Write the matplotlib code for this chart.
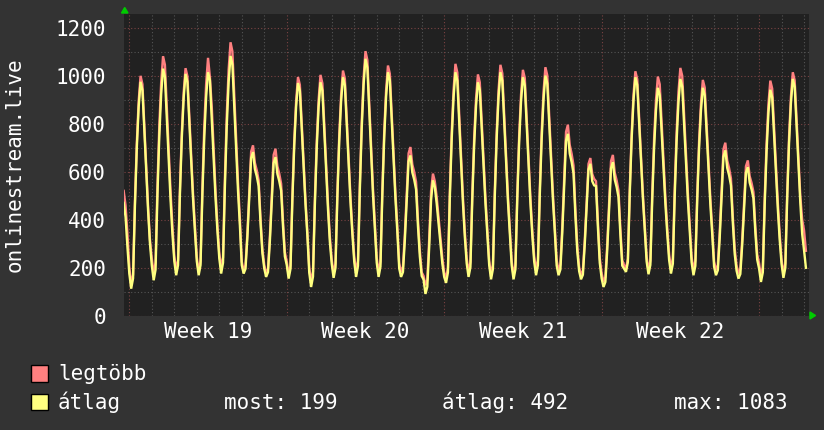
import matplotlib
matplotlib.use('Agg')
import matplotlib.pyplot as plt
from matplotlib.patches import Rectangle, Polygon

# 2-hour samples, day 0 = Monday of week 19
SLOT_HOURS = [0, 2, 4, 6, 8, 10, 12, 14, 16, 18, 20, 22]

# Sunday evening before week 19 (18h, 20h, 22h)
head_hours = [18, 20, 22]
head_max = [520, 459, 342]
head_avg = [470, 411, 286]

# legtöbb (max), one row per day
legtobb = [
    [203, 126, 170, 476, 720, 895, 1000, 965, 799, 624, 458, 318],
    [238, 175, 220, 538, 792, 973, 1082, 1046, 873, 692, 520, 375],
    [248, 189, 231, 526, 762, 931, 1032, 998, 838, 670, 509, 374],
    [245, 182, 227, 539, 789, 968, 1075, 995, 870, 691, 521, 378],
    [262, 196, 243, 574, 838, 1027, 1140, 1102, 923, 734, 555, 404],
    [225, 189, 210, 345, 512, 684, 710, 637, 606, 564, 408, 278],
    [211, 175, 196, 331, 498, 670, 696, 623, 592, 550, 394, 264],
    [226, 168, 209, 499, 730, 896, 995, 962, 805, 639, 482, 350],
    [200, 140, 183, 486, 728, 900, 1004, 969, 805, 632, 468, 330],
    [234, 175, 217, 514, 751, 920, 1022, 988, 827, 658, 497, 361],
    [246, 182, 228, 550, 808, 992, 1103, 1066, 891, 707, 532, 385],
    [242, 182, 225, 526, 767, 940, 1043, 1009, 845, 673, 509, 371],
    [218, 182, 203, 338, 505, 677, 703, 630, 599, 557, 401, 271],
    [180, 165, 126, 150, 320, 520, 592, 560, 495, 410, 325, 240],
    [180, 154, 199, 512, 763, 942, 1050, 1014, 844, 665, 494, 351],
    [240, 182, 223, 512, 742, 907, 1006, 973, 816, 652, 495, 363],
    [229, 168, 212, 519, 765, 941, 1046, 1011, 844, 668, 502, 361],
    [228, 168, 211, 511, 751, 922, 1025, 991, 828, 656, 494, 357],
    [248, 189, 231, 528, 765, 934, 1036, 1002, 841, 672, 511, 375],
    [231, 189, 213, 371, 565, 766, 796, 711, 675, 626, 444, 292],
    [202, 168, 188, 315, 471, 633, 657, 590, 570, 560, 395, 240],
    [177, 140, 161, 299, 469, 644, 670, 596, 564, 522, 363, 230],
    [210, 196, 237, 525, 756, 920, 1019, 986, 830, 665, 509, 377],
    [246, 189, 229, 512, 738, 900, 997, 965, 811, 650, 496, 367],
    [255, 196, 238, 531, 765, 933, 1033, 1000, 840, 673, 514, 380],
    [245, 189, 229, 507, 729, 888, 983, 951, 800, 642, 491, 364],
    [226, 189, 210, 349, 519, 694, 721, 647, 615, 572, 412, 279],
    [208, 175, 194, 317, 468, 623, 647, 581, 553, 515, 373, 255],
    [218, 161, 202, 489, 718, 882, 980, 947, 792, 628, 472, 341],
    [234, 175, 217, 511, 746, 914, 1015, 981, 822, 654, 500, 400],
]

# átlag (average), one row per day
atlag = [
    [175, 112, 155, 457, 699, 871, 975, 940, 777, 604, 440, 302],
    [209, 147, 191, 500, 747, 924, 1030, 995, 827, 650, 483, 341],
    [227, 168, 210, 504, 739, 907, 1008, 974, 815, 647, 487, 353],
    [227, 168, 210, 507, 744, 913, 1015, 981, 820, 651, 490, 354],
    [239, 175, 220, 538, 792, 974, 1083, 1047, 874, 693, 520, 375],
    [210, 175, 195, 327, 489, 657, 682, 611, 581, 540, 388, 261],
    [196, 161, 181, 311, 471, 636, 661, 591, 561, 521, 371, 246],
    [211, 154, 195, 480, 709, 872, 970, 937, 782, 619, 464, 334],
    [179, 119, 162, 461, 700, 871, 973, 939, 777, 606, 444, 307],
    [216, 157, 199, 492, 726, 894, 994, 961, 801, 634, 475, 341],
    [225, 161, 207, 525, 780, 962, 1071, 1035, 862, 680, 507, 361],
    [221, 161, 204, 503, 742, 913, 1015, 981, 819, 648, 486, 349],
    [196, 161, 181, 313, 475, 643, 668, 597, 567, 526, 374, 247],
    [165, 150, 90, 120, 286, 481, 564, 536, 467, 383, 300, 217],
    [161, 136, 180, 488, 734, 910, 1015, 980, 813, 637, 470, 329],
    [218, 161, 202, 486, 713, 876, 973, 941, 786, 624, 470, 340],
    [211, 151, 194, 497, 739, 911, 1015, 980, 816, 643, 479, 341],
    [210, 151, 193, 488, 724, 893, 994, 960, 800, 632, 471, 336],
    [226, 168, 210, 501, 734, 901, 1001, 968, 809, 643, 485, 351],
    [209, 168, 192, 345, 534, 729, 758, 675, 640, 593, 416, 268],
    [185, 151, 170, 296, 450, 609, 633, 560, 543, 540, 370, 220],
    [155, 119, 140, 275, 442, 614, 640, 567, 536, 494, 338, 208],
    [195, 182, 223, 507, 734, 897, 994, 962, 807, 645, 491, 361],
    [226, 172, 211, 483, 701, 857, 950, 919, 771, 615, 468, 343],
    [232, 175, 216, 500, 727, 890, 987, 955, 800, 638, 484, 354],
    [223, 168, 207, 481, 700, 856, 950, 919, 770, 614, 465, 340],
    [204, 168, 189, 324, 491, 663, 689, 616, 585, 543, 387, 257],
    [187, 154, 173, 294, 442, 596, 619, 554, 526, 489, 349, 233],
    [196, 140, 180, 461, 685, 846, 942, 910, 758, 597, 445, 316],
    [215, 157, 199, 489, 721, 887, 987, 954, 796, 630, 472, 340],
]

# Wednesday of week 23, last samples (0h, 2h)
tail_hours = [0, 2]
tail_max = [355, 270]
tail_avg = [272, 199]

week_labels = ["Week 19", "Week 20", "Week 21", "Week 22"]
y_ticks = [0, 200, 400, 600, 800, 1000, 1200]
stats = ["most: 199", "átlag: 492", "max: 1083"]

W, H = 824, 430
BG = '#333333'
PLOT_BG = '#212121'
PINK = '#ff8080'
YELLOW = '#ffff80'
FONT = 'DejaVu Sans Mono'


def px(x, y):
    """pixel (from top-left) -> figure fraction"""
    return x / W, 1 - y / H


def build_series(rows, head, tail):
    n = len(rows)
    xs = [(-1 * 24 + h) / 24 for h in head_hours]
    ys = list(head)
    for d, row in enumerate(rows):
        for h, v in zip(SLOT_HOURS, row):
            xs.append((d * 24 + h) / 24)
            ys.append(v)
    for h, v in zip(tail_hours, tail):
        xs.append((n * 24 + h) / 24)
        ys.append(v)
    return xs, ys


x_max, y_max = build_series(legtobb, head_max, tail_max)
x_avg, y_avg = build_series(atlag, head_avg, tail_avg)

fig = plt.figure(figsize=(W / 100, H / 100), dpi=100, facecolor=BG)
left, bottom = px(124, 315.5)
right, top = px(809, 14)
ax = fig.add_axes([left, bottom, right - left, top - bottom])
ax.set_facecolor(PLOT_BG)
ax.set_xlim(-0.236, 30.22)
ax.set_ylim(0, 1258)

# grid: gray every 100 / every day, red every 200 / every week
for v in range(0, 1300, 100):
    col = '#7a4343' if v % 200 == 0 else '#545454'
    ax.axhline(v, color=col, lw=0.8, ls=(0, (1, 2)), zorder=1)
for d in range(0, 31):
    col = '#7a4343' if d % 7 == 0 else '#545454'
    ax.axvline(d, color=col, lw=0.8, ls=(0, (1, 2)), zorder=1)

ax.plot(x_max, y_max, color=PINK, lw=1.7, zorder=2, solid_joinstyle='miter')
ax.plot(x_avg, y_avg, color=YELLOW, lw=1.7, zorder=3, solid_joinstyle='miter')

for s in ax.spines.values():
    s.set_visible(False)

ax.set_yticks(y_ticks)
ax.set_yticklabels([str(v) for v in y_ticks])
ax.set_xticks([7 * i + 3.5 for i in range(len(week_labels))])
ax.set_xticklabels(week_labels)
ax.tick_params(axis='both', length=0, colors='white', labelsize=15)
ax.tick_params(axis='y', pad=13)
ax.tick_params(axis='x', pad=5)
for lab in ax.get_xticklabels() + ax.get_yticklabels():
    lab.set_fontfamily(FONT)

fig.text(*px(15, 165), "onlinestream.live", rotation=90, ha='center', va='center',
         color='white', fontsize=15, family=FONT)

# green arrows at the axis ends
fig.patches.append(Polygon([px(121.5, 13), px(128, 13), px(124.7, 7.5)], closed=True,
                           transform=fig.transFigure, color='#00cc00'))
fig.patches.append(Polygon([px(810, 312), px(810, 319), px(815.5, 315.5)], closed=True,
                           transform=fig.transFigure, color='#00cc00'))

# legend
for yy, col, name in [(365, PINK, "legtöbb"), (393.5, YELLOW, "átlag")]:
    x0, y0 = px(31, yy + 16.5)
    fig.patches.append(Rectangle((x0, y0), 16.5 / W, 16.5 / H, transform=fig.transFigure,
                                 facecolor=col, edgecolor='black', lw=1))
    fig.text(*px(58, yy + 15.5), name, ha='left', va='baseline', color='white',
             fontsize=15, family=FONT)

for xx, s in zip([224, 442, 674], stats):
    fig.text(*px(xx, 409), s, ha='left', va='baseline', color='white',
             fontsize=15, family=FONT)

fig.savefig('out.png', dpi=100, facecolor=BG)
